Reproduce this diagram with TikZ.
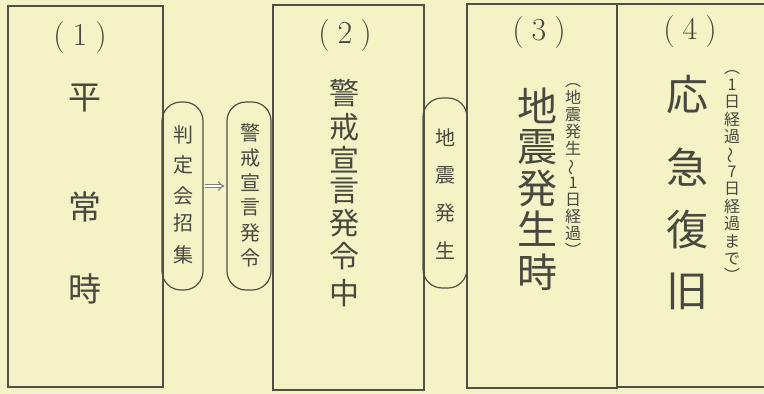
\documentclass[tikz,border=0pt]{standalone}
\usepackage{fontspec}
\usepackage{graphicx}
\newfontfamily\cjk{Noto Sans CJK JP}
\usetikzlibrary{arrows.meta}
\definecolor{bg}{HTML}{F4F3C6}
\definecolor{ln}{HTML}{505046}
\definecolor{tx}{HTML}{48483F}
\newcommand{\vwave}{\rotatebox[origin=c]{90}{～}}
\begin{document}
\begin{tikzpicture}[x=1pt,y=-1pt,
  box/.style={draw=ln, line width=1.2pt, rectangle, inner sep=0pt},
  pill/.style={draw=ln, line width=1.2pt, rectangle, rounded corners=19pt, inner sep=0pt},
  num/.style={text=tx, inner sep=0pt, font=\fontsize{32}{32}\selectfont},
  bigc/.style={text=tx, inner sep=0pt, font=\cjk\fontsize{#1}{#1}\selectfont},
  smallc/.style={text=tx, inner sep=0pt, font=\cjk\fontsize{20}{20}\selectfont},
  ann/.style={text=tx, inner sep=0pt, align=center, font=\cjk\fontsize{16}{#1}\selectfont},
  arr/.style={draw=ln!75, line width=1pt, double, double distance=2.2pt, -{Implies}}
]
\useasboundingbox (0,0) rectangle (764,394);
\clip (0,0) rectangle (764,394);
\fill[bg] (0,0) rectangle (764,394);

% boxes
\node[box, minimum width=155, minimum height=381] (b1) at (85.5,196.5) {};
\node[box, minimum width=151, minimum height=385] (b2) at (348.5,197.5) {};
\node[box, minimum width=150, minimum height=384] (b3) at (542,196) {};
\node[box, minimum width=159, minimum height=383] (b4) at (696.5,195.5) {};

% pills
\node[pill, minimum width=41, minimum height=188] (p1) at (182.5,196) {};
\node[pill, minimum width=44, minimum height=188] (p2) at (249,196) {};
\node[pill, minimum width=44, minimum height=190] (p3) at (445,193) {};
\draw[arr] ([xshift=1pt]p1.east |- 0,186) -- ([xshift=-2pt]p2.west |- 0,186);

% numbers
\node[num] (n1) at (80,38) {(\hspace{8pt}1\hspace{8pt})};
\node[num] (n2) at (345,36) {(\hspace{8pt}2\hspace{8pt})};
\node[num] (n3) at (539,33) {(\hspace{8pt}3\hspace{8pt})};
\node[num] (n4) at (690,32) {(\hspace{8pt}4\hspace{8pt})};

% box 1
\foreach \ch/\y [count=\i] in {平/98,常/207,時/289}
  \node[bigc=33] (t1-\i) at (85,\y) {\ch};
% box 2
\foreach \ch/\y [count=\i] in {警/93,戒/127,宣/160,言/191,発/223,令/256,中/293}
  \node[bigc=30] (t2-\i) at (344,\y) {\ch};
% box 3
\foreach \ch/\y [count=\i] in {地/106,震/147,発/188,生/229,時/272}
  \node[bigc=40] (t3-\i) at (537,\y) {\ch};
\node[ann=17] (a3) at (573,170) {︵\\地\\震\\発\\生\\\vwave\\1\\日\\経\\過\\︶};
% box 4
\foreach \ch/\y [count=\i] in {応/95,急/167,復/230,旧/291}
  \node[bigc=42] (t4-\i) at (687,\y) {\ch};
\node[ann=17.4] (a4) at (732,176) {︵\\1\\日\\経\\過\\\vwave\\7\\日\\経\\過\\ま\\で\\︶};

% pill texts
\foreach \ch/\y [count=\i] in {判/135,定/165,会/196,招/223,集/255}
  \node[smallc] (s1-\i) at (183,\y) {\ch};
\foreach \ch/\y [count=\i] in {警/133,戒/158,宣/183,言/207,発/233,令/258}
  \node[smallc] (s2-\i) at (250,\y) {\ch};
\foreach \ch/\y [count=\i] in {地/138,震/175,発/213,生/251}
  \node[smallc] (s3-\i) at (445,\y) {\ch};
\end{tikzpicture}
\end{document}
